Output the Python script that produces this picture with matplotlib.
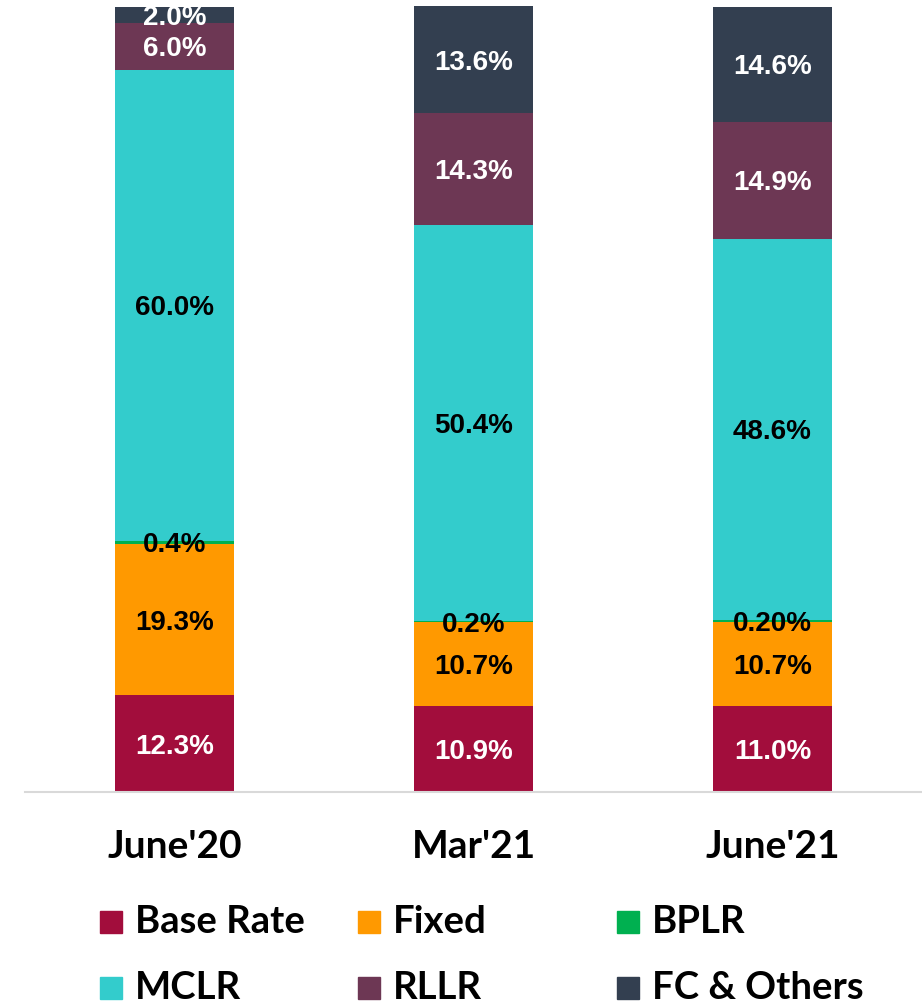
import matplotlib
matplotlib.use("Agg")
import matplotlib.pyplot as plt
from matplotlib.patches import Rectangle

categories = ["June'20", "Mar'21", "June'21"]
series = ["Base Rate", "Fixed", "BPLR", "MCLR", "RLLR", "FC & Others"]
values = {
    "Base Rate": [12.3, 10.9, 11.0],
    "Fixed": [19.3, 10.7, 10.7],
    "BPLR": [0.4, 0.2, 0.2],
    "MCLR": [60.0, 50.4, 48.6],
    "RLLR": [6.0, 14.3, 14.9],
    "FC & Others": [2.0, 13.6, 14.6],
}
labels = {
    "Base Rate": ["12.3%", "10.9%", "11.0%"],
    "Fixed": ["19.3%", "10.7%", "10.7%"],
    "BPLR": ["0.4%", "0.2%", "0.20%"],
    "MCLR": ["60.0%", "50.4%", "48.6%"],
    "RLLR": ["6.0%", "14.3%", "14.9%"],
    "FC & Others": ["2.0%", "13.6%", "14.6%"],
}
colors = ["#A20D3C", "#FF9900", "#00B050", "#33CCCC", "#6D3754", "#333F50"]
text_colors = ["white", "black", "black", "black", "white", "white"]

fig = plt.figure(figsize=(9.22, 10.06), dpi=100)
ax = fig.add_axes([25 / 922, 1 - 792 / 1006, 897 / 922, 785 / 1006])

x = range(len(categories))
bottom = [0.0] * len(categories)
for name, col, tcol in zip(series, colors, text_colors):
    vals = values[name]
    ax.bar(x, vals, width=0.4, bottom=bottom, color=col, clip_on=False, zorder=2)
    for i, v in enumerate(vals):
        ax.text(i, bottom[i] + v / 2, labels[name][i], ha="center", va="center_baseline",
                color=tcol, fontsize=20, fontweight="bold",
                family="Liberation Sans", zorder=3)
    bottom = [b + v for b, v in zip(bottom, vals)]

ax.set_xlim(-0.5, 2.5)
ax.set_ylim(0, 100)
ax.set_yticks([])
ax.set_xticks(list(x))
ax.set_xticklabels(categories, fontsize=28, fontweight="bold", family="Lato")
ax.tick_params(axis="x", length=0, pad=27)
for s in ["left", "right", "top"]:
    ax.spines[s].set_visible(False)
ax.spines["bottom"].set_color("#D9D9D9")
ax.spines["bottom"].set_linewidth(1.5)

# legend, 3 columns x 2 rows
col_x = [100, 358, 617]
row_y = [922, 988]
for k, (name, col) in enumerate(zip(series, colors)):
    px = col_x[k % 3]
    py = row_y[k // 3]
    fig.patches.append(Rectangle((px / 922, 1 - (py + 11) / 1006), 22 / 922, 22 / 1006,
                                 transform=fig.transFigure, color=col))
    fig.text((px + 35) / 922, 1 - py / 1006, name, ha="left", va="center",
             fontsize=27.5, fontweight="bold", family="Lato")

fig.savefig("out.png", dpi=100)
